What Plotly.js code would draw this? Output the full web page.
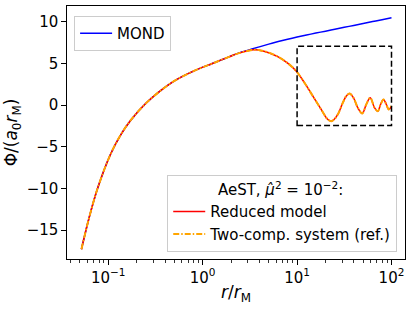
<!DOCTYPE html>
<html><head><meta charset="utf-8">
<script src="https://cdn.plot.ly/plotly-3.0.1.min.js"></script>
<style>html,body{margin:0;padding:0;background:#fff}#chart{width:413px;height:309px}</style>
</head><body><div id="chart"></div>
<script>
// MOND potential
const mondR = [0.052,0.0617,0.0767,0.106,0.1355,0.173,0.249,0.345,0.518,0.843,1.265,1.9,2.43,3.16,3.98,5.01,6.31,7.94,10,12.6,15.8,20,25.1,31.6,39.8,50.1,63.1,79.4,100];
const mondPhi = [-17.28,-13.8,-10.05,-5.85,-3.55,-1.8,0.2,1.6,3.0,4.2,5.0,5.8,6.28,6.65,7.0,7.33,7.63,7.91,8.17,8.42,8.65,8.88,9.11,9.34,9.57,9.8,10.03,10.26,10.5];
// AeST reduced model
const modelR = [0.052,0.0617,0.0767,0.106,0.1355,0.173,0.249,0.345,0.518,0.843,1.265,1.9,2.43,3.49,3.98,5.01,6.31,7.94,9.77,12.0,14.7,18.0,20.4,21.6,23.0,24.5,27.0,30.5,33.1,36.0,39.6,44.0,49.0,54.0,59.6,66.1,71.6,76.7,82.2,88.1,93.5,100];
const modelPhi = [-17.28,-13.8,-10.05,-5.85,-3.55,-1.8,0.2,1.6,3.0,4.2,5.0,5.8,6.25,6.65,6.6,6.3,5.8,5.05,4.1,2.68,1.08,-0.51,-1.51,-1.8,-1.92,-1.75,-1.11,0.29,1.08,1.40,0.88,-0.31,-0.99,0.08,0.89,-0.31,-0.72,0.1,0.68,0.1,-0.51,-0.1];
// Two-component system (reference)
const refR = [0.052,0.0617,0.0767,0.106,0.1355,0.173,0.249,0.345,0.518,0.843,1.265,1.9,2.43,3.49,3.98,5.01,6.31,7.94,9.77,12.0,14.7,18.0,20.4,21.6,23.0,24.5,27.0,30.5,33.1,36.0,39.6,44.0,49.0,54.0,59.6,66.1,71.6,76.7,82.2,88.1,93.5,100];
const refPhi = [-17.28,-13.8,-10.05,-5.85,-3.55,-1.8,0.2,1.6,3.0,4.2,5.0,5.8,6.25,6.65,6.6,6.3,5.8,5.05,4.1,2.68,1.08,-0.51,-1.51,-1.8,-1.92,-1.75,-1.11,0.29,1.08,1.40,0.88,-0.31,-0.99,0.08,0.89,-0.31,-0.72,0.1,0.68,0.1,-0.51,-0.1];
// ticks
const xTickVals = [0.1,1,10,100];
const xTickText = ['10<sup>−1</sup>','10<sup>0</sup>','10<sup>1</sup>','10<sup>2</sup>'];
const yTickVals = [-15,-10,-5,0,5,10];
const yTickText = ['−15','−10','−5','0','5','10'];
// zoom box
const boxR = [10,100];
const boxPhi = [-2.43,7.07];

const FONT = 'DejaVu Sans, sans-serif';
const NB = '\u00A0';
const traces = [
  {x: mondR, y: mondPhi, type:'scatter', mode:'lines', name:'MOND', legend:'legend',
   line:{color:'blue', width:1.5, shape:'spline'}},
  {x: modelR, y: modelPhi, type:'scatter', mode:'lines', name:'Reduced model', legend:'legend2',
   line:{color:'red', width:1.5, shape:'spline'}},
  {x: refR, y: refPhi, type:'scatter', mode:'lines', name:'Two-comp. system (ref.)', legend:'legend2',
   line:{color:'orange', width:2, dash:'6px,2px,1.5px,2px', shape:'spline'}}
];
const layout = {
  width:413, height:309,
  margin:{l:67, r:8, t:6, b:50},
  paper_bgcolor:'white', plot_bgcolor:'white',
  font:{family:FONT, size:15, color:'black'},
  showlegend:true,
  xaxis:{type:'log', range:[-1.437, 2.143], tickmode:'array', tickvals:xTickVals, ticktext:xTickText,
    ticks:'outside', ticklen:4.7, tickwidth:1, tickcolor:'black', showgrid:false, zeroline:false,
    showline:true, linecolor:'black', linewidth:1, mirror:true,
    minor:{ticks:'outside', ticklen:2.7, tickwidth:0.8, tickcolor:'black', dtick:'D1', showgrid:false},
    tickfont:{size:15},
    title:{text:'<i>r</i>/<i>r</i><sub>M</sub>', font:{size:17}, standoff:0}},
  yaxis:{range:[-18.45, 11.9], tickmode:'array', tickvals:yTickVals, ticktext:yTickText,
    ticks:'outside', ticklen:4.7, tickwidth:1, tickcolor:'black', showgrid:false, zeroline:false,
    showline:true, linecolor:'black', linewidth:1, mirror:true,
    tickfont:{size:15},
    title:{text:'Φ/(<i>a</i><sub>0</sub><i>r</i><sub>M</sub>)', font:{size:17}, standoff:4}},
  legend:{x:0.021, y:0.96, xanchor:'left', yanchor:'top', bgcolor:'rgba(255,255,255,0.8)',
    bordercolor:'#cccccc', borderwidth:1, font:{size:15}, itemwidth:32},
  legend2:{x:0.977, y:0.029, xanchor:'right', yanchor:'bottom', bgcolor:'rgba(255,255,255,0.8)',
    bordercolor:'#cccccc', borderwidth:1, font:{size:15}, itemwidth:32,
    title:{text:NB.repeat(10)+'AeST, <i>μ̂</i><sup>2</sup> = 10<sup>−2</sup>:', side:'top', font:{size:15}}},
  shapes:[{type:'rect', xref:'x', yref:'y', x0:boxR[0], x1:boxR[1], y0:boxPhi[0], y1:boxPhi[1],
    line:{color:'black', width:1.5, dash:'6px,3px'}, fillcolor:'rgba(0,0,0,0)'}]
};
Plotly.newPlot('chart', traces, layout, {staticPlot:true, displayModeBar:false});
</script>
</body></html>
